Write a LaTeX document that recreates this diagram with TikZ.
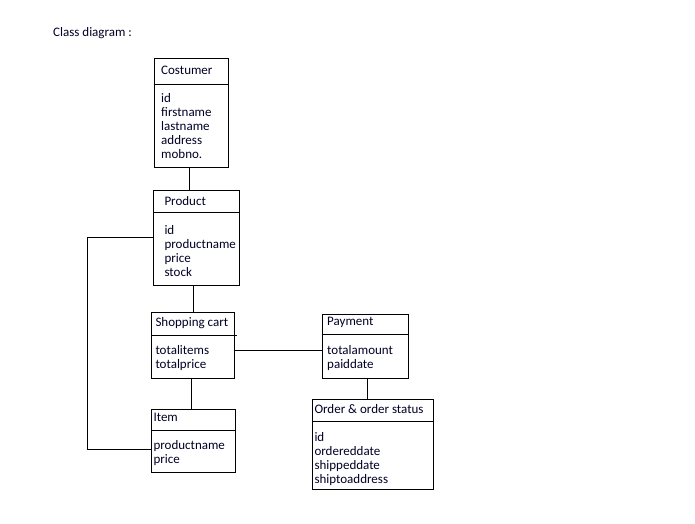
\documentclass[tikz,border=0pt]{standalone}
\usepackage{fontspec}
\setmainfont{Carlito}
\begin{document}
\begin{tikzpicture}[x=1pt,y=-1pt,
  every node/.style={font=\fontsize{13}{14}\selectfont},
  classbox/.style={draw=black, line width=1pt, rectangle, anchor=north west, inner sep=0pt},
  lbl/.style={anchor=base west, inner sep=0pt, text=black!85!blue},
  link/.style={draw=black, line width=1pt}]
\useasboundingbox[fill=white] (0,0) rectangle (695,523);

\node[lbl] (title) at (53,36.5) {Class diagram :};

% Costumer
\node[classbox, minimum width=74pt, minimum height=109pt] (cost) at (154,58) {};
\draw[link] (cost.west |- 0,84) -- (cost.east |- 0,84);
\node[lbl] (costname) at (161,74.5) {Costumer};
\node[lbl, align=left, anchor=north west] (costattr) at (161,93) {id\\firstname\\lastname\\address\\mobno.};

% Product
\node[classbox, minimum width=86pt, minimum height=95pt] (prod) at (153.3,189.5) {};
\draw[link] (prod.west |- 0,212.7) -- (prod.east |- 0,212.7);
\node[lbl] (prodname) at (164.3,205.5) {Product};
\node[lbl, align=left, anchor=north west] (prodattr) at (164.3,225) {id\\productname\\price\\stock};

% Shopping cart
\node[classbox, minimum width=83pt, minimum height=66.6pt] (cart) at (151.3,311.7) {};
\draw[link] (cart.west |- 0,335) -- ([xshift=1.4pt]cart.east |- 0,335);
\node[lbl] (cartname) at (155.3,326) {Shopping cart};
\node[lbl, align=left, anchor=north west] (cartattr) at (155.3,345) {totalitems\\totalprice};

% Payment
\node[classbox, minimum width=86pt, minimum height=64pt] (pay) at (322.3,314.3) {};
\draw[link] (pay.west |- 0,334) -- (pay.east |- 0,334);
\node[lbl] (payname) at (327,325.3) {Payment};
\node[lbl, align=left, anchor=north west] (payattr) at (327,345) {totalamount\\paiddate};

% Item
\node[classbox, minimum width=84pt, minimum height=63pt] (item) at (151.3,409.3) {};
\draw[link] (item.west |- 0,430.3) -- (item.east |- 0,430.3);
\node[lbl] (itemname) at (153.3,421) {Item};
\node[lbl, align=left, anchor=north west] (itemattr) at (153.3,440.7) {productname\\price};

% Order & order status
\node[classbox, minimum width=121pt, minimum height=90.3pt] (ord) at (312.3,398.7) {};
\draw[link] (ord.west |- 0,421.3) -- (ord.east |- 0,421.3);
\node[lbl] (ordname) at (314.3,413.3) {Order \& order status};
\node[lbl, align=left, anchor=north west] (ordattr) at (314.3,432.3) {id\\ordereddate\\shippeddate\\shiptoaddress};

% Associations
\coordinate (bendtop) at (87,237.7);
\coordinate (bendbot) at (87,449.3);
\draw[link] (cost.south -| 189,0) -- (prod.north -| 189,0);
\draw[link] (prod.south -| 193.3,0) -- (cart.north -| 193.3,0);
\draw[link] (prod.west |- bendtop) -- (bendtop) -- (bendbot) -- (item.west |- bendbot);
\draw[link] (cart.east |- 0,350.7) -- (pay.west |- 0,350.7);
\draw[link] (cart.south -| 191.3,0) -- (item.north -| 191.3,0);
\draw[link] (pay.south -| 367.3,0) -- (ord.north -| 367.3,0);
\end{tikzpicture}
\end{document}
